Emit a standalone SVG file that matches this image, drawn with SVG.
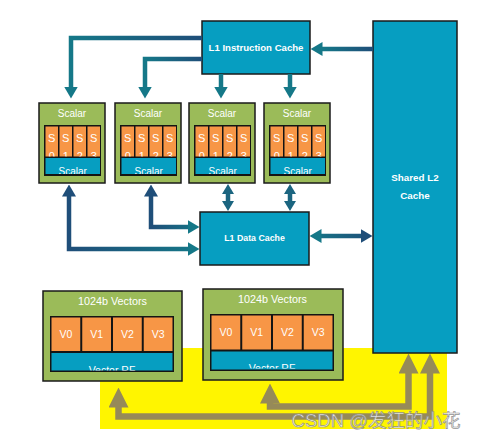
<svg xmlns="http://www.w3.org/2000/svg" width="477" height="439" viewBox="0 0 477 439">
<style>
text{font-family:"Liberation Sans",Arial,sans-serif;fill:#fff;text-anchor:middle}
.grn{fill:#9bbb59;stroke:#1a1a1a;stroke-width:1.5}
.blu{fill:#069ec1;stroke:#1a1a1a;stroke-width:1.5}
.blk{fill:#141414}
.org{fill:#f79646}
.bar{fill:#069ec1}
.b{font-weight:bold}
.c{fill:none;stroke-width:4.5;stroke-linejoin:miter}
.g{fill:none;stroke:#968a58;stroke-width:6.5;stroke-linejoin:miter}
</style>
<defs>
<linearGradient id="gr1" gradientUnits="userSpaceOnUse" x1="202" y1="0" x2="71" y2="0"><stop offset="0" stop-color="#1f4e79"/><stop offset="1" stop-color="#157888"/></linearGradient>
<linearGradient id="gr2" gradientUnits="userSpaceOnUse" x1="202" y1="0" x2="145" y2="0"><stop offset="0" stop-color="#1f4e79"/><stop offset="1" stop-color="#157888"/></linearGradient>
<linearGradient id="gr5" gradientUnits="userSpaceOnUse" x1="373" y1="0" x2="322" y2="0"><stop offset="0" stop-color="#1f4e79"/><stop offset="1" stop-color="#157888"/></linearGradient>
<linearGradient id="gr8" gradientUnits="userSpaceOnUse" x1="309" y1="0" x2="373" y2="0"><stop offset="0" stop-color="#157888"/><stop offset="1" stop-color="#1f4e79"/></linearGradient>
<linearGradient id="gr9" gradientUnits="userSpaceOnUse" x1="69" y1="0" x2="200" y2="0"><stop offset="0" stop-color="#1f4e79"/><stop offset="1" stop-color="#157888"/></linearGradient>
<linearGradient id="gr10" gradientUnits="userSpaceOnUse" x1="151" y1="0" x2="200" y2="0"><stop offset="0" stop-color="#1f4e79"/><stop offset="1" stop-color="#157888"/></linearGradient>
<marker id="aT" markerUnits="userSpaceOnUse" markerWidth="12" markerHeight="14" viewBox="0 0 12 14" refX="0.5" refY="7" orient="auto-start-reverse"><path d="M0,0 L12,7 L0,14 z" fill="#157888"/></marker>
<marker id="aN" markerUnits="userSpaceOnUse" markerWidth="12" markerHeight="14" viewBox="0 0 12 14" refX="0.5" refY="7" orient="auto-start-reverse"><path d="M0,0 L12,7 L0,14 z" fill="#1f4e79"/></marker>
<marker id="aM" markerUnits="userSpaceOnUse" markerWidth="10" markerHeight="12" viewBox="0 0 10 12" refX="0.5" refY="6" orient="auto-start-reverse"><path d="M0,0 L10,6 L0,12 z" fill="#1b6580"/></marker>
<marker id="aG" markerUnits="userSpaceOnUse" markerWidth="20" markerHeight="20" viewBox="0 0 20 20" refX="0.5" refY="10" orient="auto-start-reverse"><path d="M0,0 L20,10 L0,20 z" fill="#968a58"/></marker>
<clipPath id="cellclip" clipPathUnits="userSpaceOnUse"><rect x="0" y="23.5" width="66" height="30"/></clipPath>
<clipPath id="sbarclip" clipPathUnits="userSpaceOnUse"><rect x="6.5" y="55" width="54.5" height="16"/></clipPath>
<clipPath id="vbarclip" clipPathUnits="userSpaceOnUse"><rect x="8.5" y="62" width="121" height="17.5"/></clipPath>
</defs>
<rect width="477" height="439" fill="#fff"/>
<rect id="highlight" x="100" y="348" width="347" height="81" fill="#fff500"/>

<g id="l2cache">
<rect class="blu" x="373" y="21" width="84" height="332"/>
<text class="b" x="415" y="181" font-size="9.8">Shared L2</text>
<text class="b" x="415" y="199" font-size="9.8">Cache</text>
</g>

<g id="l1icache">
<rect class="blu" x="202" y="21" width="108" height="53"/>
<text class="b" x="256" y="51" font-size="9.6">L1 Instruction Cache</text>
</g>

<g id="l1dcache">
<rect class="blu" x="200" y="212" width="109" height="53"/>
<text class="b" x="254.5" y="241" font-size="8.8">L1 Data Cache</text>
</g>

<g id="scalar1" transform="translate(39,103)">
<rect class="grn" width="66" height="80"/>
<text x="33" y="13.5" font-size="10">Scalar</text>
<rect class="blk" x="5" y="22" width="57" height="51"/>
<rect class="org" x="6.5" y="23.5" width="12.5" height="30"/><rect class="org" x="20.5" y="23.5" width="12.5" height="30"/><rect class="org" x="34.5" y="23.5" width="12.5" height="30"/><rect class="org" x="48.5" y="23.5" width="12.5" height="30"/>
<text x="12.75" y="38.5" font-size="11">S</text><text x="26.75" y="38.5" font-size="11">S</text><text x="40.75" y="38.5" font-size="11">S</text><text x="54.75" y="38.5" font-size="11">S</text>
<g clip-path="url(#cellclip)"><text x="12.75" y="57" font-size="11">0</text><text x="26.75" y="57" font-size="11">1</text><text x="40.75" y="57" font-size="11">2</text><text x="54.75" y="57" font-size="11">3</text></g>
<rect class="bar" x="6.5" y="55" width="54.5" height="16"/>
<text x="33.75" y="72" font-size="10" clip-path="url(#sbarclip)">Scalar</text>
</g>

<g id="scalar2" transform="translate(115,103)">
<rect class="grn" width="66" height="80"/>
<text x="33" y="13.5" font-size="10">Scalar</text>
<rect class="blk" x="5" y="22" width="57" height="51"/>
<rect class="org" x="6.5" y="23.5" width="12.5" height="30"/><rect class="org" x="20.5" y="23.5" width="12.5" height="30"/><rect class="org" x="34.5" y="23.5" width="12.5" height="30"/><rect class="org" x="48.5" y="23.5" width="12.5" height="30"/>
<text x="12.75" y="38.5" font-size="11">S</text><text x="26.75" y="38.5" font-size="11">S</text><text x="40.75" y="38.5" font-size="11">S</text><text x="54.75" y="38.5" font-size="11">S</text>
<g clip-path="url(#cellclip)"><text x="12.75" y="57" font-size="11">0</text><text x="26.75" y="57" font-size="11">1</text><text x="40.75" y="57" font-size="11">2</text><text x="54.75" y="57" font-size="11">3</text></g>
<rect class="bar" x="6.5" y="55" width="54.5" height="16"/>
<text x="33.75" y="72" font-size="10" clip-path="url(#sbarclip)">Scalar</text>
</g>

<g id="scalar3" transform="translate(189,103)">
<rect class="grn" width="66" height="80"/>
<text x="33" y="13.5" font-size="10">Scalar</text>
<rect class="blk" x="5" y="22" width="57" height="51"/>
<rect class="org" x="6.5" y="23.5" width="12.5" height="30"/><rect class="org" x="20.5" y="23.5" width="12.5" height="30"/><rect class="org" x="34.5" y="23.5" width="12.5" height="30"/><rect class="org" x="48.5" y="23.5" width="12.5" height="30"/>
<text x="12.75" y="38.5" font-size="11">S</text><text x="26.75" y="38.5" font-size="11">S</text><text x="40.75" y="38.5" font-size="11">S</text><text x="54.75" y="38.5" font-size="11">S</text>
<g clip-path="url(#cellclip)"><text x="12.75" y="57" font-size="11">0</text><text x="26.75" y="57" font-size="11">1</text><text x="40.75" y="57" font-size="11">2</text><text x="54.75" y="57" font-size="11">3</text></g>
<rect class="bar" x="6.5" y="55" width="54.5" height="16"/>
<text x="33.75" y="72" font-size="10" clip-path="url(#sbarclip)">Scalar</text>
</g>

<g id="scalar4" transform="translate(264,103)">
<rect class="grn" width="66" height="80"/>
<text x="33" y="13.5" font-size="10">Scalar</text>
<rect class="blk" x="5" y="22" width="57" height="51"/>
<rect class="org" x="6.5" y="23.5" width="12.5" height="30"/><rect class="org" x="20.5" y="23.5" width="12.5" height="30"/><rect class="org" x="34.5" y="23.5" width="12.5" height="30"/><rect class="org" x="48.5" y="23.5" width="12.5" height="30"/>
<text x="12.75" y="38.5" font-size="11">S</text><text x="26.75" y="38.5" font-size="11">S</text><text x="40.75" y="38.5" font-size="11">S</text><text x="54.75" y="38.5" font-size="11">S</text>
<g clip-path="url(#cellclip)"><text x="12.75" y="57" font-size="11">0</text><text x="26.75" y="57" font-size="11">1</text><text x="40.75" y="57" font-size="11">2</text><text x="54.75" y="57" font-size="11">3</text></g>
<rect class="bar" x="6.5" y="55" width="54.5" height="16"/>
<text x="33.75" y="72" font-size="10" clip-path="url(#sbarclip)">Scalar</text>
</g>

<g id="vector1" transform="translate(43,291)">
<rect class="grn" width="139" height="90"/>
<text x="69.5" y="14" font-size="10.8">1024b Vectors</text>
<rect class="blk" x="7" y="25" width="124" height="56"/>
<rect class="org" x="8.5" y="26.5" width="28.75" height="33.5"/><rect class="org" x="39.25" y="26.5" width="28.75" height="33.5"/><rect class="org" x="70" y="26.5" width="28.75" height="33.5"/><rect class="org" x="100.75" y="26.5" width="28.75" height="33.5"/>
<text x="22.9" y="46.5" font-size="10.5">V0</text><text x="53.6" y="46.5" font-size="10.5">V1</text><text x="84.4" y="46.5" font-size="10.5">V2</text><text x="115.1" y="46.5" font-size="10.5">V3</text>
<rect class="bar" x="8.5" y="62" width="121" height="17.5"/>
<text x="69" y="82.5" font-size="10.5" clip-path="url(#vbarclip)">Vector RF</text>
</g>

<g id="vector2" transform="translate(203,289)">
<rect class="grn" width="140" height="91"/>
<text x="69.5" y="14" font-size="10.8">1024b Vectors</text>
<rect class="blk" x="7" y="25" width="124" height="57"/>
<rect class="org" x="8.5" y="26.5" width="28.75" height="34"/><rect class="org" x="39.25" y="26.5" width="28.75" height="34"/><rect class="org" x="70" y="26.5" width="28.75" height="34"/><rect class="org" x="100.75" y="26.5" width="28.75" height="34"/>
<text x="22.9" y="46.5" font-size="10.5">V0</text><text x="53.6" y="46.5" font-size="10.5">V1</text><text x="84.4" y="46.5" font-size="10.5">V2</text><text x="115.1" y="46.5" font-size="10.5">V3</text>
<rect class="bar" x="8.5" y="62.5" width="121" height="18"/>
<text x="69" y="83" font-size="10.5" clip-path="url(#vbarclip)">Vector RF</text>
</g>

<g id="connectors">
<path class="c" stroke="url(#gr1)" d="M202,38 H71 V87" marker-end="url(#aT)"/>
<path class="c" stroke="url(#gr2)" d="M202,59 H145 V87" marker-end="url(#aT)"/>
<path class="c" stroke="#157888" d="M221,74 V87" marker-end="url(#aT)"/>
<path class="c" stroke="#157888" d="M290,74 V87" marker-end="url(#aT)"/>
<path class="c" stroke="url(#gr5)" d="M373,49 H322" marker-end="url(#aT)"/>
<path class="c" stroke="#1b6580" d="M228,193.5 V201.5" marker-start="url(#aM)" marker-end="url(#aM)"/>
<path class="c" stroke="#1b6580" d="M290,193.5 V201.5" marker-start="url(#aM)" marker-end="url(#aM)"/>
<path class="c" stroke="url(#gr8)" d="M321,236 H361" marker-start="url(#aT)" marker-end="url(#aN)"/>
<path class="c" stroke="url(#gr9)" d="M69,196 V249 H188" marker-start="url(#aN)" marker-end="url(#aT)"/>
<path class="c" stroke="url(#gr10)" d="M151,196 V227 H188" marker-start="url(#aN)" marker-end="url(#aT)"/>
<path class="g" d="M118.5,407 V416.5 H430 V373" marker-start="url(#aG)" marker-end="url(#aG)"/>
<path class="g" d="M270,403 V406.5 H408.5 V373" marker-start="url(#aG)" marker-end="url(#aG)"/>
</g>

<text id="watermark" x="376" y="427" font-size="18.5" style="font-family:'Liberation Sans','Noto Sans CJK SC',sans-serif;fill:#f4f4f4;stroke:#8a8a8a;stroke-width:0.7" opacity="0.9">CSDN @发狂的小花</text>
</svg>
